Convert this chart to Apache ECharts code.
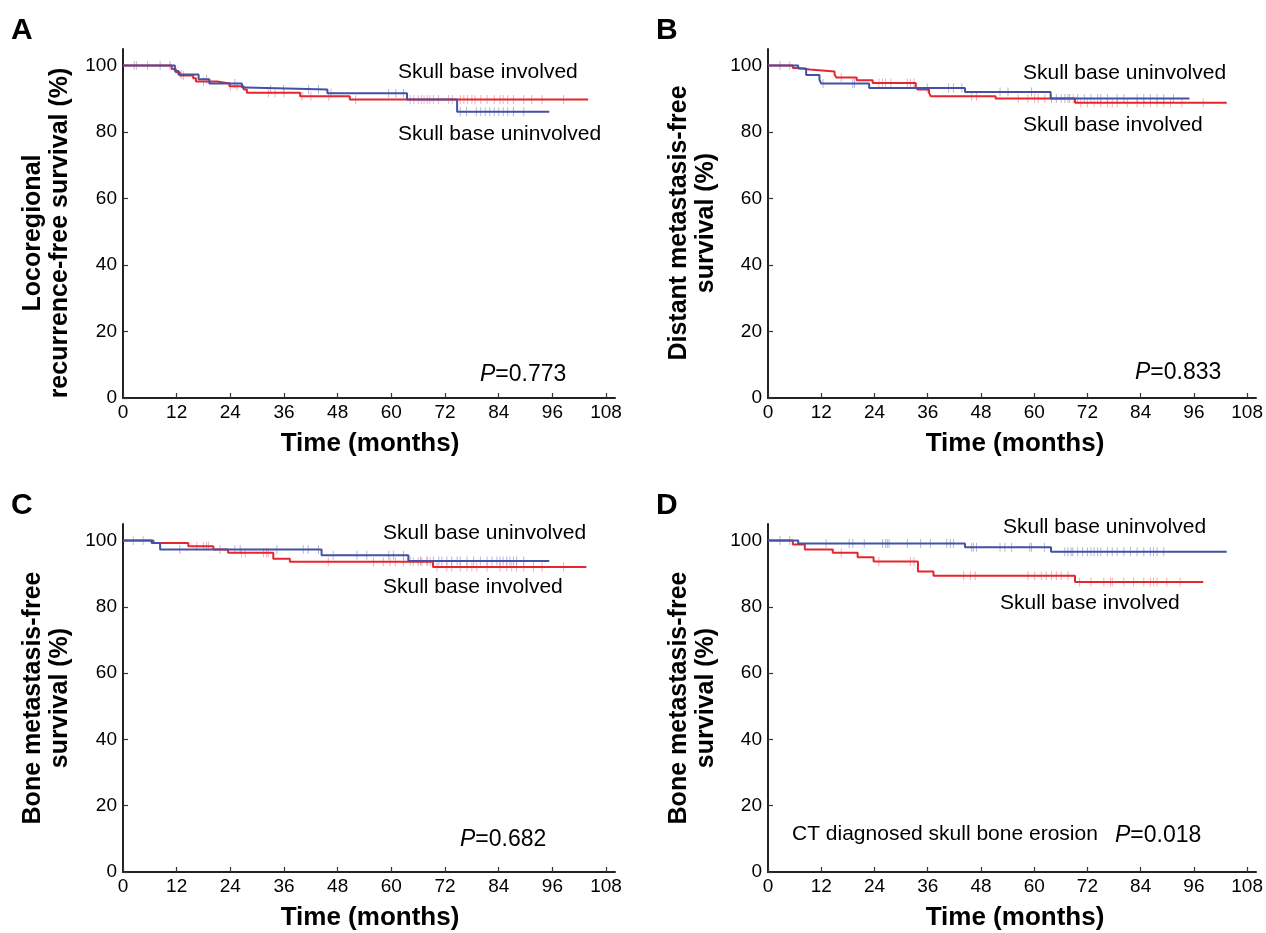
<!DOCTYPE html>
<html>
<head>
<meta charset="utf-8">
<title>Kaplan-Meier curves</title>
<script src="https://cdn.jsdelivr.net/npm/echarts@6.0.0/dist/echarts.min.js"></script>
<style>
  html, body { margin: 0; padding: 0; background: #fff; }
  #chart { width: 1266px; height: 933px; }
</style>
</head>
<body>
<div id="chart"></div>
<script>
// tick labels
var xTicks = [0, 12, 24, 36, 48, 60, 72, 84, 96, 108];
var yTicks = [0, 20, 40, 60, 80, 100];

// A - locoregional recurrence-free
var aRedT = [0, 10.9, 11.8, 12.7, 15.7, 16.3, 21.0, 23.8, 27.0, 27.7, 39.6, 50.7, 104];
var aRedS = [100, 99.0, 98.0, 97.0, 96.2, 95.2, 94.6, 93.8, 92.8, 91.8, 90.8, 89.8, 89.8];
var aBlueT = [0, 11.6, 12.4, 16.9, 19.3, 26.6, 27.5, 45.7, 63.5, 74.7, 95.3];
var aBlueS = [100, 98.4, 97.3, 95.9, 94.6, 93.4, 92.8, 91.7, 89.8, 86.1, 86.1];
var aRedC = [3, 5.5, 13.5, 18, 24, 25.5, 32.5, 34, 36, 40, 42, 46, 52, 64.2, 65, 66, 66.7, 67.3, 68, 68.6, 69.4, 70.5, 72.8, 73.6, 75.4, 76.2, 77, 78, 78.7, 80, 81.4, 83, 84.3, 85, 86, 87.3, 89.6, 91.4, 93.7, 98.5];
var aBlueC = [2.5, 8.3, 10.5, 13, 18.7, 25, 33, 35.9, 41.5, 43.7, 46.5, 59.4, 61, 62.7, 75.4, 76.8, 79, 80, 81, 82, 83, 84, 85, 86, 87.3, 89.6];

// B - distant metastasis-free
var bRedT = [0, 5.6, 6.8, 9.4, 15.0, 15.4, 20.0, 23.6, 33.3, 33.7, 36.3, 36.7, 51.3, 69.2, 103.4];
var bRedS = [100, 99.3, 98.8, 98.2, 97.3, 96.4, 95.6, 94.8, 93.6, 92.8, 91.8, 90.8, 90.1, 88.8, 88.8];
var bBlueT = [0, 6.8, 8.6, 11.6, 12.0, 22.8, 44.4, 63.7, 95];
var bBlueS = [100, 99.1, 97.2, 95.8, 94.6, 93.3, 92.1, 90.1, 90.1];
var bRedC = [4.9, 16.5, 25, 25.8, 26.5, 27.7, 31.4, 32.1, 32.9, 45.9, 47, 56.4, 58.6, 60.1, 60.9, 62.4, 66.1, 67.6, 68.8, 70.5, 72, 73.5, 75, 76.5, 77.6, 78.7, 81, 83.2, 84.7, 86.2, 87.7, 89.2, 90.7, 93.3, 98.1];
var bBlueC = [2.7, 12.4, 19.1, 19.5, 35.9, 40.7, 41.8, 43.7, 52.3, 54.1, 59.4, 63.9, 65, 66.9, 68, 69.8, 71.3, 72.8, 74.3, 75, 76.5, 78.7, 80.2, 83.2, 84.7, 86.2, 87.7, 89.2, 91.4];

// C - bone metastasis-free
var cRedT = [0, 6.8, 14.6, 20.2, 23.5, 33.6, 37.3, 69.3, 103.6];
var cRedS = [100, 99.3, 98.3, 97.3, 96.3, 94.5, 93.6, 92.0, 92.0];
var cBlueT = [0, 6.4, 8.3, 44.4, 63.8, 95.3];
var cBlueS = [100, 99.3, 97.3, 95.6, 93.8, 93.8];
var cRedC = [2.3, 4.5, 16.5, 18, 18.7, 19.1, 26.5, 27.3, 31.4, 32.1, 32.5, 45.9, 56, 58.2, 59.7, 60.9, 62.7, 64.9, 66, 66.8, 68, 68.7, 70.2, 72.4, 73.5, 75.4, 76.9, 78, 79.1, 81.4, 84.3, 85.8, 86.9, 88, 89.6, 91.8, 93.7, 98.5];
var cBlueC = [12.7, 21.7, 25, 26.2, 34.4, 40.3, 41.4, 43.7, 47, 52.3, 54.5, 59.4, 60.5, 62.7, 64.2, 66.5, 68, 69.4, 70.6, 71.3, 72.4, 73.5, 74.7, 75.4, 76.9, 78.4, 79.9, 81.4, 82.5, 83.6, 84.3, 85, 85.8, 86.5, 87.3, 88, 89.6];

// D - bone metastasis-free, CT skull bone erosion
var dRedT = [0, 5.6, 8.3, 14.6, 20.2, 23.8, 33.8, 37.3, 69.2, 98.1];
var dRedS = [100, 98.8, 97.3, 96.3, 95.0, 93.7, 90.7, 89.4, 87.5, 87.5];
var dBlueT = [0, 6.8, 44.4, 63.8, 103.4];
var dBlueS = [100, 99.1, 98.0, 96.6, 96.6];
var dRedC = [16.5, 25, 32.1, 32.9, 44.1, 45.6, 46.7, 58.6, 60.1, 61.6, 62.7, 63.9, 65, 66.1, 67.6, 70.2, 72.8, 75.7, 77.2, 77.6, 80.2, 82.4, 84.7, 86.2, 86.9, 87.7, 89.9, 92.9];
var dBlueC = [2.7, 4.9, 13.1, 18.3, 19.1, 21.7, 25.8, 26.5, 26.9, 27.3, 31.4, 34.4, 36.6, 40.3, 41.1, 41.8, 45.9, 46.3, 47, 52.3, 53.4, 54.9, 59, 59.4, 62.3, 66.9, 67.6, 68.3, 68.7, 69.8, 70.9, 72, 72.8, 73.5, 74.3, 75, 76.5, 77.6, 78.7, 80.2, 81.7, 83.2, 84.7, 86.2, 86.9, 87.7, 89.2];

var RED = '#e5262e', BLUE = '#4252a4';
var RED_C = '#f29aa0', BLUE_C = '#9ea6d6';
var FONT = 'Liberation Sans, Arial, sans-serif';

var panels = [
    {red: [aRedT, aRedS, aRedC], blue: [aBlueT, aBlueS, aBlueC]},
    {red: [bRedT, bRedS, bRedC], blue: [bBlueT, bBlueS, bBlueC]},
    {red: [cRedT, cRedS, cRedC], blue: [cBlueT, cBlueS, cBlueC]},
    {red: [dRedT, dRedS, dRedC], blue: [dBlueT, dBlueS, dBlueC]}
];

// survival value of a step curve at time t
function survAt(ts, ss, t) {
    var v = ss[0];
    for (var i = 0; i < ts.length; i++) {
        if (ts[i] <= t) v = ss[i];
    }
    return v;
}

function zip(ts, ss) {
    var out = [];
    for (var i = 0; i < ts.length; i++) out.push([ts[i], ss[i]]);
    return out;
}

function censor(ts, ss, cs) {
    return cs.map(function (t) { return [t, survAt(ts, ss, t)]; });
}

var grids = [
    {left: 123, top: 49, width: 492, height: 349},
    {left: 768, top: 49, width: 492, height: 349},
    {left: 123, top: 524, width: 492, height: 348},
    {left: 768, top: 524, width: 492, height: 348}
];

var axisLine = {show: true, lineStyle: {color: '#222', width: 2}};
var xAxes = [], yAxes = [], series = [];

for (var i = 0; i < 4; i++) {
    xAxes.push({
        type: 'value', gridIndex: i, min: 0, max: 110,
        axisLine: axisLine,
        axisTick: {inside: true, length: 5, customValues: xTicks, lineStyle: {color: '#333', width: 1.2}},
        axisLabel: {customValues: xTicks, color: '#000', fontSize: 19, fontFamily: FONT, margin: 5},
        splitLine: {show: false}
    });
    yAxes.push({
        type: 'value', gridIndex: i, min: 0, max: 105,
        axisLine: axisLine,
        axisTick: {inside: true, length: 5, customValues: yTicks, lineStyle: {color: '#333', width: 1.2}},
        axisLabel: {customValues: yTicks, color: '#000', fontSize: 19, fontFamily: FONT, margin: 6},
        splitLine: {show: false}
    });

    var p = panels[i];
    [['red', RED, RED_C], ['blue', BLUE, BLUE_C]].forEach(function (g) {
        var d = p[g[0]];
        series.push({
            type: 'line', step: 'end', xAxisIndex: i, yAxisIndex: i,
            data: zip(d[0], d[1]), symbol: 'none', silent: true,
            lineStyle: {color: g[1], width: 2}
        });
        series.push({
            type: 'scatter', xAxisIndex: i, yAxisIndex: i,
            data: censor(d[0], d[1], d[2]), symbol: 'rect', symbolSize: [1, 9], silent: true,
            itemStyle: {color: g[2]}
        });
    });
}

// texts
function txt(x, y, s, size, opts) {
    var o = {
        type: 'text', x: x, y: y, silent: true,
        style: {text: s, fill: '#000', font: (opts && opts.bold ? 'bold ' : '') + size + 'px ' + FONT,
                 textVerticalAlign: 'middle', textAlign: (opts && opts.align) || 'left'}
    };
    if (opts && opts.rotate) { o.rotation = Math.PI / 2; o.style.textAlign = 'center'; }
    if (opts && opts.rich) o.style.rich = opts.rich;
    if (opts && opts.lh) o.style.lineHeight = opts.lh;
    return o;
}
var italicP = {i: {fontStyle: 'italic', fontSize: 23, fontFamily: FONT, fill: '#000'}, n: {fontSize: 23, fontFamily: FONT, fill: '#000'}};

var graphics = [
    txt(11, 31, 'A', 30, {bold: true}), txt(656, 31, 'B', 30, {bold: true}),
    txt(11, 506, 'C', 30, {bold: true}), txt(656, 506, 'D', 30, {bold: true}),

    txt(47, 233, 'Locoregional\nrecurrence-free survival (%)', 25, {bold: true, rotate: true, lh: 27}),
    txt(693, 223, 'Distant metastasis-free\nsurvival (%)', 25, {bold: true, rotate: true, lh: 27}),
    txt(47, 698, 'Bone metastasis-free\nsurvival (%)', 25, {bold: true, rotate: true, lh: 27}),
    txt(693, 698, 'Bone metastasis-free\nsurvival (%)', 25, {bold: true, rotate: true, lh: 27}),

    txt(370, 444, 'Time (months)', 26, {bold: true, align: 'center'}),
    txt(1015, 444, 'Time (months)', 26, {bold: true, align: 'center'}),
    txt(370, 918, 'Time (months)', 26, {bold: true, align: 'center'}),
    txt(1015, 918, 'Time (months)', 26, {bold: true, align: 'center'}),

    txt(398, 72, 'Skull base involved', 21), txt(398, 134, 'Skull base uninvolved', 21),
    txt(1023, 73, 'Skull base uninvolved', 21), txt(1023, 125, 'Skull base involved', 21),
    txt(383, 533, 'Skull base uninvolved', 21), txt(383, 587, 'Skull base involved', 21),
    txt(1003, 527, 'Skull base uninvolved', 21), txt(1000, 603, 'Skull base involved', 21),
    txt(792, 834, 'CT diagnosed skull bone erosion', 21),

    txt(480, 375, '{i|P}{n|=0.773}', 23, {rich: italicP}),
    txt(1135, 373, '{i|P}{n|=0.833}', 23, {rich: italicP}),
    txt(460, 840, '{i|P}{n|=0.682}', 23, {rich: italicP}),
    txt(1115, 836, '{i|P}{n|=0.018}', 23, {rich: italicP})
];

var chart = echarts.init(document.getElementById('chart'));
chart.setOption({
    animation: false,
    backgroundColor: '#fff',
    grid: grids,
    xAxis: xAxes,
    yAxis: yAxes,
    series: series,
    graphic: graphics
});
</script>
</body>
</html>
